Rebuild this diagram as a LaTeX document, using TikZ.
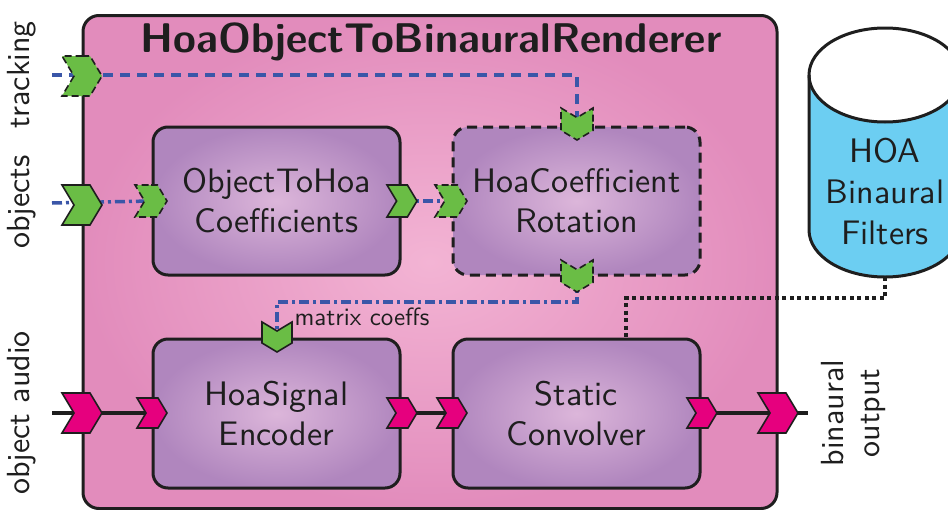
\documentclass[tikz,border=0pt]{standalone}
\usepackage{fontspec}
\setsansfont{lmsans10-regular.otf}[BoldFont=lmsans10-bold.otf]
\usetikzlibrary{shapes.symbols,calc}
\pgfdeclarelayer{bg}\pgfdeclarelayer{mid}\pgfdeclarelayer{lines}
\pgfsetlayers{bg,mid,lines,main}
\definecolor{bordc}{RGB}{30,30,30}
\definecolor{chgreen}{RGB}{106,189,69}
\definecolor{chpink}{RGB}{230,0,126}
\definecolor{lnblue}{RGB}{58,86,168}
\definecolor{cylblue}{RGB}{108,206,242}
\definecolor{pinkout}{RGB}{226,140,188}
\definecolor{pinkin}{RGB}{243,180,212}
\definecolor{purpout}{RGB}{176,134,190}
\definecolor{purpin}{RGB}{220,182,218}
\tikzset{
  outerbox/.style={draw=bordc, line width=3, rounded corners=16, shading=radial, inner color=pinkin, outer color=pinkout},
  procbox/.style={draw=bordc, line width=3, rounded corners=15, shading=radial, inner color=purpin, outer color=purpout,
    align=center, font=\fontsize{34}{40}\selectfont\sffamily, text=bordc},
  chev/.style={shape=signal, signal pointer angle=118, draw=bordc, line width=1.6, inner sep=0pt, outer sep=0pt,
    signal to=east, signal from=west},
  chevR/.style={chev},
  chevD/.style={chev, rotate=-90},
  gch/.style={fill=chgreen},
  pch/.style={fill=chpink},
  dsh/.style={dash pattern=on 7pt off 4pt},
  sidelbl/.style={rotate=90, font=\fontsize{32}{36}\selectfont\sffamily, text=bordc, align=center},
  trkline/.style={draw=lnblue, line width=3.5, dash pattern=on 10pt off 7pt},
  objline/.style={draw=lnblue, line width=3.5, dash pattern=on 10pt off 4pt on 3pt off 4pt},
  audline/.style={draw=bordc, line width=3.5},
  filtline/.style={draw=bordc, line width=4, dash pattern=on 4pt off 3.5pt},
}
\begin{document}
\begin{tikzpicture}[x=1pt,y=-1pt]
\path[use as bounding box, clip] (0,0) rectangle (948,509);

% outer box
\begin{pgfonlayer}{bg}
\node[outerbox, minimum width=694, minimum height=493] (outer) at (430,262) {};
\end{pgfonlayer}
\node[font=\fontsize{41.5}{44}\selectfont\sffamily\bfseries, text=bordc] (title) at (431,42) {HoaObjectToBinauralRenderer};

% processing boxes
\begin{pgfonlayer}{mid}
\node[procbox, minimum width=247, minimum height=148] (o2h) at (276.5,201) {ObjectToHoa\\Coefficients};
\node[procbox, dashed, dash pattern=on 10pt off 6pt, minimum width=247, minimum height=148] (rot) at (576.5,201) {HoaCoefficient\\Rotation};
\node[procbox, minimum width=247, minimum height=149] (enc) at (276.5,413.5) {HoaSignal\\Encoder};
\node[procbox, minimum width=247, minimum height=149] (conv) at (576.5,413.5) {Static\\Convolver};
\end{pgfonlayer}

% cylinder
\fill[cylblue] (809,75) -- (809,230) arc (180:0:76 and 47) -- (961,75) arc (0:180:76 and 47) -- cycle;
\draw[bordc, line width=3] (809,75) -- (809,230) arc (180:0:76 and 47) -- (961,75);
\draw[bordc, line width=3] (885,75) ellipse (76 and 47);
\node[align=center, font=\fontsize{34}{41}\selectfont\sffamily, text=bordc] (filt) at (885,192) {HOA\\Binaural\\Filters};
\coordinate (cylbot) at (885,277);

% chevrons
\node[chevR, gch, dsh, minimum width=40, minimum height=40] (trkin) at (82,76) {};
\node[chevR, gch, minimum width=40, minimum height=40] (objin) at (82,205) {};
\node[chevR, gch, dsh, minimum width=32, minimum height=32] (o2hin) at (151,201) {};
\node[chevR, gch, minimum width=30, minimum height=32] (o2hout) at (402,201) {};
\node[chevR, gch, dsh, minimum width=32, minimum height=32] (rotin) at (451,201) {};
\node[chevD, gch, dsh, minimum width=32, minimum height=32] (rottop) at (577,124) {};
\node[chevD, gch, dsh, minimum width=32, minimum height=32] (rotout) at (577,276) {};
\node[chevD, gch, minimum width=30, minimum height=30] (enctop) at (277,337) {};
\node[chevR, pch, minimum width=40, minimum height=40] (audin) at (82,413) {};
\node[chevR, pch, minimum width=30, minimum height=30] (encin) at (152,413) {};
\node[chevR, pch, minimum width=30, minimum height=30] (encout) at (402,413) {};
\node[chevR, pch, minimum width=30, minimum height=30] (convin) at (452,413) {};
\node[chevR, pch, minimum width=30, minimum height=30] (convout) at (702,413) {};
\node[chevR, pch, minimum width=40, minimum height=40] (binout) at (778,413) {};

% labels
\node[sidelbl] (ltrk) at (22,75) {tracking};
\node[sidelbl] (lobj) at (22,202) {objects};
\node[sidelbl] (laud) at (22,413) {object audio};
\node[sidelbl] (lbin) at (853,413) {binaural\\output};
\node[anchor=base west, font=\fontsize{25}{28}\selectfont\sffamily, text=bordc] (mtx) at (291,325) {matrix coeffs};

% free ends
\coordinate (trkstart) at (52,75);
\coordinate (objstart) at (52,203);
\coordinate (audstart) at (52,413);
\coordinate (audend) at (808,413);
\coordinate (mtxcorner) at (577,302);
\coordinate (filtcorner) at (626,298);

% connectors
\begin{pgfonlayer}{lines}
\draw[trkline] (trkstart) -| (rottop.center);
\draw[objline] (objstart) -- (o2hin.center);
\draw[objline] (o2hout.center) -- (rotin.center);
\draw[objline] (rotout.center) -- (mtxcorner) -| (enctop.center);
\draw[audline] (audstart) -- (audin.center);
\draw[audline] (audin.center) -- (encin.center);
\draw[audline] (encout.center) -- (convin.center);
\draw[audline] (convout.center) -- (binout.center);
\draw[audline] (binout.center) -- (audend);
\draw[filtline] (cylbot) |- (filtcorner) -- (filtcorner |- conv.north);
\end{pgfonlayer}
\end{tikzpicture}
\end{document}
